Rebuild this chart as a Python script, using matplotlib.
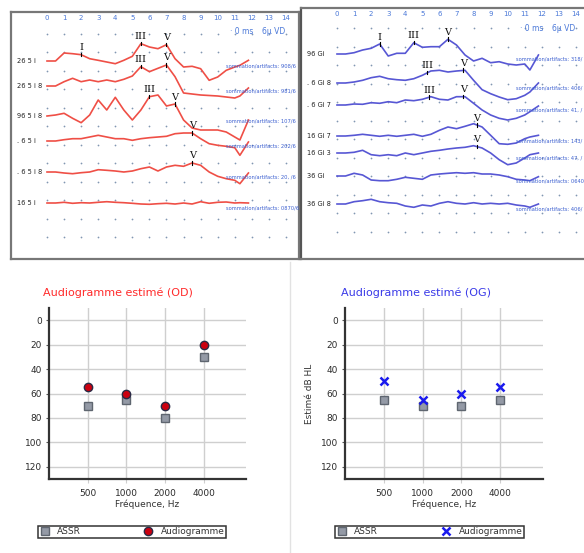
import numpy as np
import matplotlib
matplotlib.use("Agg")
import matplotlib.pyplot as plt
from matplotlib.lines import Line2D

W, H = 584, 553

# --- ABR waveforms (amplitude in px above the trace baseline)
t_ms = [0, 0.5, 1, 1.5, 2, 2.5, 3, 3.5, 4, 4.5, 5, 5.5, 6, 6.5, 7, 7.5,
        8, 8.5, 9, 9.5, 10, 10.5, 11, 11.3, 11.8]

od_labels = ["26 5 i", "26 5 i 8", "96 5 i 8", ". 6 5 i", ". 6 5 i 8", "16 5 i"]
od_base = [61, 86, 116, 141, 172, 203]
od_waves = [
    [0, 0, 8, 7.3, 6.3, 2.3, 0.7, -1, -2.7, 0.7, 4.7, 17.3, 14, 12.3, 16.3, 2.3,
     -6, -5.3, -7.7, -19.3, -16, -9.3, -6, -4.3, 0.7],
    [0, 0, 4.3, 7.7, 4.3, 6, 4.3, 6, 4.3, 6.7, 10, 19.3, 14.3, 17.7, 21, 9.3,
     -7, -8, -9, -9.5, -10, -11, -12, -10, -2],
    [0, 1, 2.7, -2.3, -6.7, 1, 16, 6, 18.7, 6, -4, 6, 19.3, 21, 10, 12,
     -4, -12, -14, -14, -14, -16, -21, -24, -4],
    [0, 0, 1.3, 2.3, 2.3, 4, 5.7, 4, 2.3, 2.3, 0.7, 2.3, 3.3, 4, 4.7, 7.3,
     8, 8, 2.3, -2.7, -4.3, -5.3, -6.7, -14.3, -1],
    [0, 0, -1, -1.7, -0.7, 0, 2.3, 1.7, 1, 0, 1, 3.3, 5, 1, 5, 6.7,
     5.7, 9, 6.7, 0, -4.3, -6.7, -8.3, -11.7, -1],
    [0, 0, 0.7, -0.3, 0.3, 0, 0.7, 1.3, 0.7, 0.3, -0.3, -1, -1.3, -0.7, -0.3, -1,
     0, -1, 1.3, -0.3, 0.7, 1, 0, 0.3, 0],
]
od_peaks = [[("I", 2.0), ("III", 5.5), ("V", 7.0)],
            [("III", 5.5), ("V", 7.0)],
            [("III", 6.0), ("V", 7.5)],
            [("V", 8.5)],
            [("V", 8.5)],
            []]
od_counts = ["908/6", "981/6", "107/6", "202/6", "20, /6", "0870/6"]

og_labels = ["96 Gi", ". 6 Gi 8", ". 6 Gi 7", "16 Gi 7", "16 Gi 3", "36 Gi", "36 Gi 8"]
og_base = [54, 83, 105, 136, 153, 176, 204]
og_waves = [
    [0, 0, 1.3, 4, 5.7, 10, -2, 0.7, 0.7, 11.3, 6.7, 7.3, 7.3, 14.7, 9, -1,
     -7, -4.3, -8.7, -7.7, -10, -11, -10, -16, -1],
    [0, 0, 1, 2.7, 5.3, 6.7, 4.3, 3.3, 2.7, 4.3, 7.7, 12, 12.7, 11, 12, 12.7,
     2.7, -6.7, -10.7, -14, -16.7, -15.7, -12.3, -9, 0],
    [0, 0, 1, 0.7, 2.3, 1.7, 3.3, 2.3, 5, 4.3, 5.7, 8.3, 5.7, 5, 8.3, 8.3,
     1.7, -5, -10, -13.3, -15, -13.3, -10, -6.7, -1],
    [0, 0, 0.7, 1.7, 0.7, -0.3, 0.7, -0.3, 0.7, 1.7, -0.3, 1.7, 5.7, 9, 7.3, 9.7,
     12.3, 9, 0.7, -7.7, -8.3, -7, -2.7, -1, 0.7],
    [0, 0, 0.7, 2.7, -1.7, -2.7, -1.7, -2.7, 0, -1.7, 0, 1.7, 2.7, 4, 5, 5.7,
     7.3, 5, 0, -6.7, -11.7, -10, -5, -1.7, 0],
    [0, 0, 2.7, 1, -4, -4.7, -4.7, -3.3, -1.3, -2.3, -3.3, 1, 2, 2.7, 3.3, 2.7,
     3.3, 2, 2, 1, -0.7, -3.3, -4, -4.7, -0.7],
    [0, 0, 2.3, 3.3, 4.7, 2.3, 1.3, 0.7, -2, -3.3, -1, -2, 0.7, 2.3, 0.7, 0,
     1.3, 0, 0.7, 0, 0.7, -1, -2, -3.3, 0],
]
og_peaks = [[("I", 2.5), ("III", 4.5), ("V", 6.5)],
            [("III", 5.3), ("V", 7.4)],
            [("III", 5.4), ("V", 7.4)],
            [("V", 8.2)],
            [("V", 8.2)],
            [], []]
og_counts = ["318/", "406/", "41, /", "143/", "47, /", "0640/", "406/"]

# --- estimated audiograms
freqs = ["500", "1000", "2000", "4000"]
od_assr = [70, 65, 80, 30]
od_audio = [55, 60, 70, 20]
og_assr = [65, 70, 70, 65]
og_audio = [50, 65, 60, 55]

RED = "#ef4f46"
BLUE = "#5757d4"
TICKBLUE = "#4a78d8"

fig = plt.figure(figsize=(W / 100, H / 100), dpi=100)
fig.patch.set_facecolor("white")


def px_axes(x0, y0, x1, y1):
    return fig.add_axes([x0 / W, 1 - y1 / H, (x1 - x0) / W, (y1 - y0) / H])


def draw_abr(ax, top, labels, base, waves, peaks, counts, color, dot_rows):
    ax.set_ylim(259, top)
    ax.set_xticks([])
    ax.set_yticks([])
    for s in ax.spines.values():
        s.set_color("#777777")
        s.set_linewidth(1.6)
    gx, gy = np.meshgrid(np.arange(15), dot_rows)
    ax.scatter(gx.ravel(), gy.ravel(), s=1.6, color="#8197b2", lw=0, zorder=1)
    for k in range(15):
        ax.text(k, top + 5.5, str(k), color=TICKBLUE, fontsize=5,
                ha="center", va="center")
    ax.text(10.7, top + 20, "· 0 ms", color=TICKBLUE, fontsize=5.5, va="center")
    ax.text(12.6, top + 20, "6µ VD", color=TICKBLUE, fontsize=5.5, va="center")
    t = np.array(t_ms)
    for lab, b, w, pk, cnt in zip(labels, base, waves, peaks, counts):
        y = b - np.array(w)
        ax.plot(t, y, color=color, lw=1.2, solid_joinstyle="round", zorder=3)
        ax.text(-1.75, b, lab, fontsize=4.8, color="#222222", va="center")
        ax.text(10.5, b + 5, "sommation/artifacts: " + cnt, fontsize=3.7,
                color="#3b5fd0", va="center", clip_on=True)
        for name, tp in pk:
            yp = b - np.interp(tp, t, w)
            ax.plot([tp, tp], [yp - 2, yp + 1.5], color="black", lw=0.8, zorder=4)
            ax.text(tp, yp - 2.5, name, fontsize=7, family="DejaVu Serif",
                    ha="center", va="bottom", color="#111111", zorder=5)


ax1 = px_axes(11, 12, 299, 259)
ax1.set_xlim((11 - 47) / 17.07, (299 - 47) / 17.07)
draw_abr(ax1, 12, od_labels, od_base, od_waves, od_peaks, od_counts, RED,
         33.5 + 18.5 * np.arange(12))

ax2 = px_axes(301, 8, 600, 259)
ax2.set_xlim((301 - 337) / 17.07, (600 - 337) / 17.07)
draw_abr(ax2, 8, og_labels, og_base, og_waves, og_peaks, og_counts, BLUE,
         28 + 18.5 * np.arange(12))
ax2.spines["right"].set_visible(False)
ax2.spines["left"].set_color("#555555")

# separator between the two audiograms
fig.add_artist(Line2D([290 / W, 290 / W], [0, 1 - 262 / H], color="#e2e2e2", lw=1))


def draw_audio(ax, assr, audio, aud_style, title, title_color, title_x, legend_box):
    x = np.arange(1, len(freqs) + 1)
    ax.set_xlim(0, 5.1)
    ax.set_ylim(130, -10)
    ax.set_yticks(range(0, 121, 20))
    ax.set_xticks(x)
    ax.set_xticklabels(freqs)
    ax.grid(True, color="#cfcfcf", lw=1)
    ax.set_axisbelow(True)
    for s in ["top", "right"]:
        ax.spines[s].set_visible(False)
    for s in ["left", "bottom"]:
        ax.spines[s].set_color("#333333")
        ax.spines[s].set_linewidth(1.6)
    ax.tick_params(axis="y", length=2, pad=3, labelsize=6.5, labelcolor="#2b2b2b", color="#555555")
    ax.tick_params(axis="x", length=3, pad=4, labelsize=6.5, labelcolor="#2b2b2b", color="#cfcfcf")
    ax.set_xlabel("Fréquence, Hz", fontsize=6.5, color="#333333", labelpad=1.5)
    h1, = ax.plot(x, assr, ls="none", marker="s", ms=5.5, mfc="#949aa6",
                  mec="#5f6670", mew=1.0, label="ASSR", zorder=3)
    h2, = ax.plot(x, audio, ls="none", label="Audiogramme", zorder=4, **aud_style)
    fig.text(title_x / W, 1 - 293 / H, title, color=title_color, fontsize=8,
             ha="center", va="center")
    x0, y0, x1, y1 = legend_box
    leg = ax.legend(handles=[h1, h2], loc="center", ncol=2, mode="expand",
                    bbox_to_anchor=(x0 / W, 1 - y1 / H, (x1 - x0) / W, (y1 - y0) / H),
                    bbox_transform=fig.transFigure, fontsize=6.5, frameon=True,
                    fancybox=False, edgecolor="#333333", framealpha=1,
                    borderpad=0.15, handletextpad=0.8, borderaxespad=0, handlelength=1.2)
    leg.get_frame().set_linewidth(1.1)
    for txt in leg.get_texts():
        txt.set_color("#333333")


ax3 = px_axes(49, 308, 246, 479)
draw_audio(ax3, od_assr, od_audio,
           dict(marker="o", ms=6, mfc="#cc0010", mec="#2a2a45", mew=1.0),
           "Audiogramme estimé (OD)", "#ff2a2a", 118, (38, 525, 226, 539))

ax4 = px_axes(345, 308, 543, 479)
draw_audio(ax4, og_assr, og_audio,
           dict(marker="x", ms=6, mec="#1a1aee", mew=1.8),
           "Audiogramme estimé (OG)", "#3a3ae8", 416, (335, 525, 524, 539))
ax4.set_ylabel("Estimé dB HL", fontsize=6.5, color="#333333", labelpad=5)

fig.savefig("out.png", dpi=100, facecolor="white")
